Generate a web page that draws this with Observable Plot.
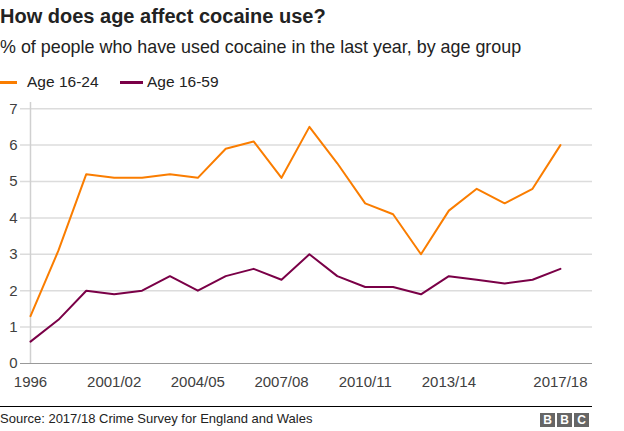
<!DOCTYPE html>
<html>
<head>
<meta charset="utf-8">
<script src="https://cdn.jsdelivr.net/npm/d3@7"></script>
<script src="https://cdn.jsdelivr.net/npm/@observablehq/plot@0.6"></script>
<style>
  body { margin: 0; background: #fff; font-family: "Liberation Sans", Arial, sans-serif; }
  #wrap { position: relative; width: 624px; height: 431px; overflow: hidden; }
  .abs { position: absolute; white-space: nowrap; }
  #title { left: 0; top: 5px; font-size: 20px; font-weight: bold; color: #222; }
  #subtitle { left: 0; top: 37px; font-size: 17.9px; color: #222; }
  .leg { top: 73px; font-size: 15.5px; color: #222; }
  .sw { position: absolute; top: 81px; height: 3px; }
  #chart { left: 0; top: 95px; }
  #rule { left: 0; top: 406px; width: 592px; height: 1px; background: #000; }
  #source { left: 0; top: 411px; font-size: 13px; color: #222; }
  .bbc { position: absolute; top: 413px; width: 15px; height: 14px; background: #666; color: #fff;
         font-size: 12px; font-weight: bold; text-align: center; line-height: 14px; }
</style>
</head>
<body>
<div id="wrap">
  <div id="title" class="abs">How does age affect cocaine use?</div>
  <div id="subtitle" class="abs">% of people who have used cocaine in the last year, by age group</div>
  <div class="sw" style="left:0;width:17px;background:#fa7d00"></div>
  <div class="abs leg" style="left:27px">Age 16-24</div>
  <div class="sw" style="left:120px;width:23px;background:#7a0047"></div>
  <div class="abs leg" style="left:147px">Age 16-59</div>
  <div id="chart" class="abs"></div>
  <div id="rule" class="abs"></div>
  <div id="source" class="abs">Source: 2017/18 Crime Survey for England and Wales</div>
  <div class="bbc" style="left:540px">B</div>
  <div class="bbc" style="left:557px">B</div>
  <div class="bbc" style="left:574px">C</div>
</div>
<script>
const years = ["1996","1998","2000","2001/02","2002/03","2003/04","2004/05","2005/06","2006/07","2007/08",
  "2008/09","2009/10","2010/11","2011/12","2012/13","2013/14","2014/15","2015/16","2016/17","2017/18"];
const age1624 = [1.3,3.1,5.2,5.1,5.1,5.2,5.1,5.9,6.1,5.1,6.5,5.5,4.4,4.1,3.0,4.2,4.8,4.4,4.8,6.0];
const age1659 = [0.6,1.2,2.0,1.9,2.0,2.4,2.0,2.4,2.6,2.3,3.0,2.4,2.1,2.1,1.9,2.4,2.3,2.2,2.3,2.6];
const tickLabels = ["1996","2001/02","2004/05","2007/08","2010/11","2013/14","2017/18"];
const yTicks = [0,1,2,3,4,5,6,7];

const series = [
  {name: "Age 16-24", values: age1624, color: "#fa7d00"},
  {name: "Age 16-59", values: age1659, color: "#7a0047"}
];
const data = series.flatMap(s => s.values.map((v, i) => ({i, year: years[i], value: v, series: s.name})));
const tickIdx = tickLabels.map(t => years.indexOf(t));

const chart = Plot.plot({
  width: 624,
  height: 300,
  marginLeft: 20,
  marginRight: 32,
  marginTop: 7,
  marginBottom: 32,
  style: {fontFamily: "'Liberation Sans', Arial, sans-serif", fontSize: "15px", color: "#404040", background: "transparent"},
  x: {domain: [-0.358, 20.15], axis: null},
  y: {domain: [0, 7.17], axis: null},
  color: {domain: series.map(s => s.name), range: series.map(s => s.color)},
  marks: [
    Plot.ruleY(yTicks.filter(t => t > 0), {stroke: "#dcdcdc", strokeWidth: 1.5}),
    Plot.ruleX([0], {stroke: "#d0d0d0", strokeWidth: 1.5}),
    Plot.ruleY([0], {stroke: "#999", strokeWidth: 1}),
    Plot.axisY(yTicks, {tickSize: 0, tickPadding: 3, fontSize: 15, fill: "#404040", label: null}),
    Plot.axisX(tickIdx, {tickSize: 0, tickPadding: 13, fontSize: 15, fill: "#404040", label: null,
      tickFormat: i => years[i]}),
    Plot.line(data, {x: "i", y: "value", z: "series", stroke: "series", strokeWidth: 2, curve: "linear"})
  ]
});
document.getElementById("chart").appendChild(chart);
</script>
</body>
</html>
